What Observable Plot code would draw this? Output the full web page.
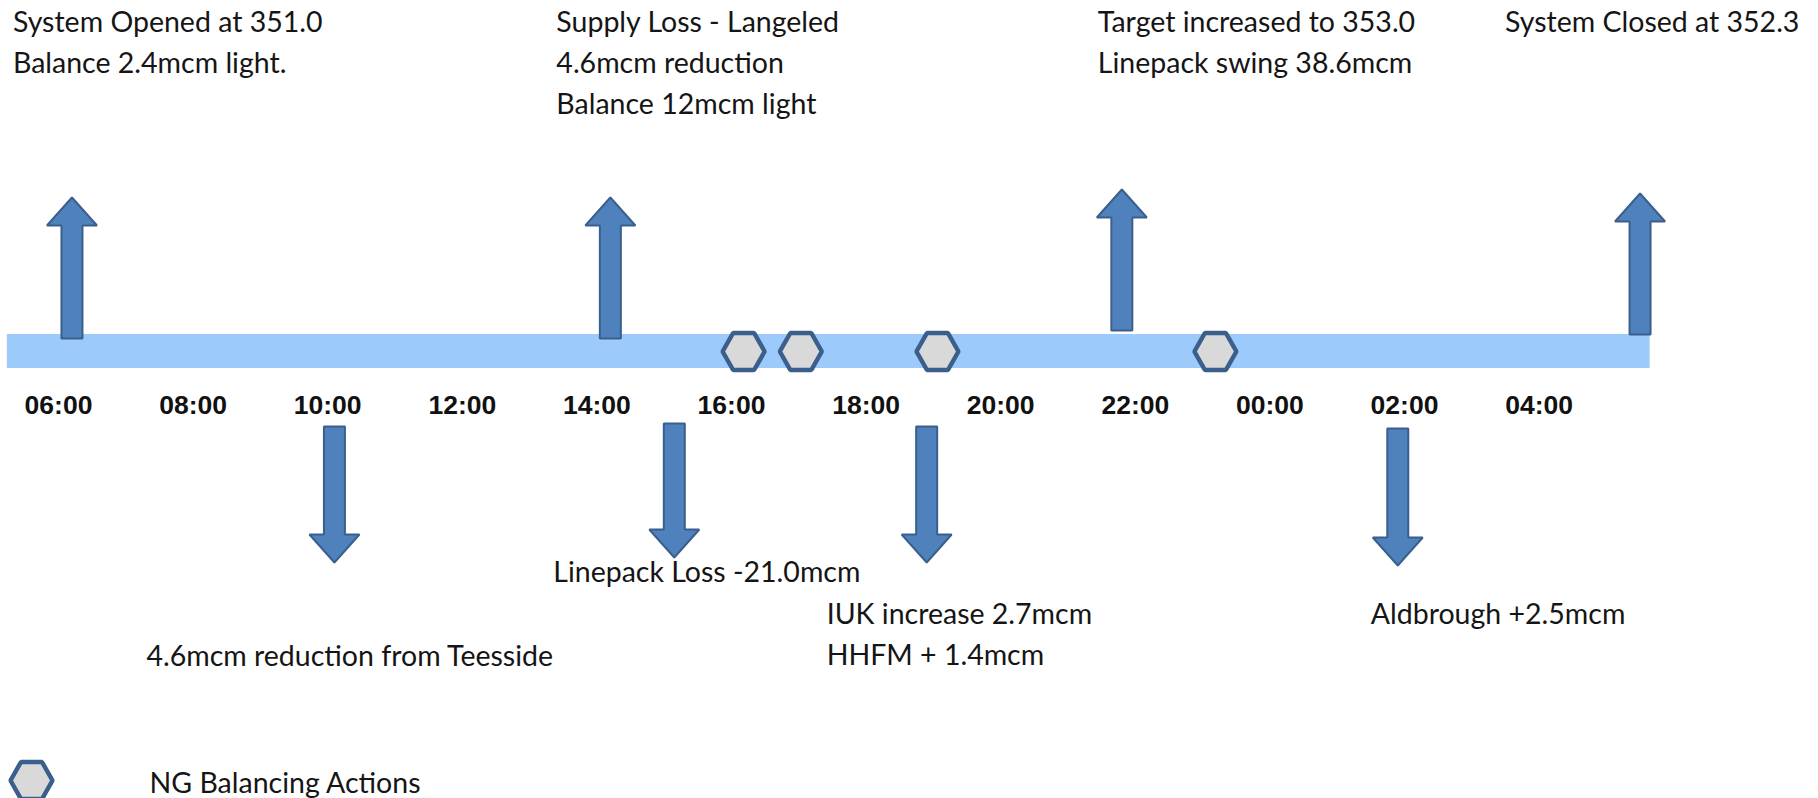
<!DOCTYPE html>
<html>
<head>
<meta charset="utf-8">
<script src="https://cdn.jsdelivr.net/npm/d3@7"></script>
<script src="https://cdn.jsdelivr.net/npm/@observablehq/plot@0.6"></script>
<style>
  html, body { margin: 0; padding: 0; background: #fff; }
  svg { display: block; }
</style>
</head>
<body>
<div id="chart"></div>
<script>
// ---------------- DATA ----------------
// Gas day timeline, hours from midnight of day 1 (24+ = next day)
const dayStart = 5.24;
const dayEnd = 29.65;

const tickHours = [6, 8, 10, 12, 14, 16, 18, 20, 22, 24, 26, 28];
const tickLabels = ["06:00", "08:00", "10:00", "12:00", "14:00", "16:00",
                    "18:00", "20:00", "22:00", "00:00", "02:00", "04:00"];

// Events above the line (up arrows)
const upHours = [6.2, 14.2, 21.8, 29.5];
const upLabels = [
  ["System Opened at 351.0", "Balance 2.4mcm light."],
  ["Supply Loss - Langeled", "4.6mcm reduction", "Balance 12mcm light"],
  ["Target increased to 353.0", "Linepack swing 38.6mcm"],
  ["System Closed at 352.3"]
];

// Events below the line (down arrows)
const downHours = [10.1, 15.15, 18.9, 25.9];
const downLabels = [
  ["4.6mcm reduction from Teesside"],
  ["Linepack Loss -21.0mcm"],
  ["IUK increase 2.7mcm", "HHFM + 1.4mcm"],
  ["Aldbrough +2.5mcm"]
];

// NG balancing actions (hexagons)
const actionHours = [16.18, 17.03, 19.06, 23.19];
const legendLabel = "NG Balancing Actions";

// ---------------- LAYOUT (pixels) ----------------
const W = 1818, H = 798;
const pxPerHour = 67.3;
const xMin = 6 - 58 / pxPerHour;
const xMax = xMin + W / pxPerHour;
const hOff = (h, dpx) => h + dpx / pxPerHour;
const pxToHour = (p) => xMin + p / pxPerHour;

const band = {y1: 334, y2: 368};
const upLayout = [
  {tip: 197, bottom: 338, textDx: -59, firstBaseline: 31},
  {tip: 197, bottom: 338, textDx: -54, firstBaseline: 31},
  {tip: 189, bottom: 330, textDx: -24, firstBaseline: 31},
  {tip: 193, bottom: 334, textDx: -135, firstBaseline: 31}
];
const downLayout = [
  {top: 426, tip: 562, textDx: -188, firstBaseline: 665},
  {top: 423, tip: 557, textDx: -121, firstBaseline: 581},
  {top: 426, tip: 562, textDx: -100, firstBaseline: 623},
  {top: 428, tip: 565, textDx: -27, firstBaseline: 623}
];
const lineGap = 41;
const shaftHalf = 10.5, headHalf = 25, headLen = 28;
const hexHalfW = 21, hexTopHalf = 10.5, hexHalfH = 18.5;
const hexY = 351;
const legendPos = {hexPx: 31, hexY: 780, textPx: 149, baseline: 792};
const tickBaseline = 413;

// ---------------- DERIVED SHAPES ----------------
function arrowPoly(id, h, tipY, baseY, dir) {
  // dir = -1 up (tip above), +1 down
  const hb = tipY - dir * headLen;
  return [
    [ shaftHalf, baseY], [ shaftHalf, hb], [ headHalf, hb], [0, tipY],
    [-headHalf, hb], [-shaftHalf, hb], [-shaftHalf, baseY]
  ].map(([dx, y]) => ({id, x: hOff(h, dx), y}));
}
function hexPoly(id, h, cy) {
  return [
    [-hexHalfW, 0], [-hexTopHalf, -hexHalfH], [hexTopHalf, -hexHalfH],
    [hexHalfW, 0], [hexTopHalf, hexHalfH], [-hexTopHalf, hexHalfH]
  ].map(([dx, dy]) => ({id, x: hOff(h, dx), y: cy + dy}));
}

const arrows = [
  ...upHours.flatMap((h, i) => arrowPoly("u" + i, h, upLayout[i].tip, upLayout[i].bottom, -1)),
  ...downHours.flatMap((h, i) => arrowPoly("d" + i, h, downLayout[i].tip, downLayout[i].top, 1))
];
const hexes = [
  ...actionHours.flatMap((h, i) => hexPoly("a" + i, h, hexY)),
  ...hexPoly("legend", pxToHour(legendPos.hexPx), legendPos.hexY)
];

const labelRows = [
  ...upHours.flatMap((h, i) => upLabels[i].map((t, j) => ({
    x: hOff(h, upLayout[i].textDx), y: upLayout[i].firstBaseline + j * lineGap, t}))),
  ...downHours.flatMap((h, i) => downLabels[i].map((t, j) => ({
    x: hOff(h, downLayout[i].textDx), y: downLayout[i].firstBaseline + j * lineGap, t}))),
  {x: pxToHour(legendPos.textPx), y: legendPos.baseline, t: legendLabel}
];

const ticks = tickHours.map((h, i) => ({x: h, t: tickLabels[i]}));

// ---------------- PLOT ----------------
const chart = Plot.plot({
  width: W,
  height: H,
  margin: 0,
  x: {type: "linear", domain: [xMin, xMax], range: [0, W], axis: null},
  y: {type: "linear", domain: [0, H], range: [0, H], axis: null},
  style: {background: "#fff", overflow: "visible"},
  marks: [
    Plot.rect([{x1: dayStart, x2: dayEnd, y1: band.y1, y2: band.y2}],
      {x1: "x1", x2: "x2", y1: "y1", y2: "y2", fill: "#9ccafb"}),
    Plot.line(arrows, {x: "x", y: "y", z: "id", curve: "linear-closed",
      fill: "#4f81bd", stroke: "#3a5f8d", strokeWidth: 2, strokeLinejoin: "miter"}),
    Plot.line(hexes, {x: "x", y: "y", z: "id", curve: "linear-closed",
      fill: "#d9d9d9", stroke: "#3b5f8c", strokeWidth: 4.5, strokeLinejoin: "miter"}),
    Plot.text(ticks, {x: "x", y: () => tickBaseline, text: "t", textAnchor: "middle",
      lineAnchor: "bottom", fontFamily: "'Liberation Sans', Arial, sans-serif",
      fontWeight: "bold", fontSize: 26.5, fill: "#111"}),
    Plot.text(labelRows, {x: "x", y: "y", text: "t", textAnchor: "start",
      lineAnchor: "bottom", fontFamily: "Lato, 'Open Sans', sans-serif",
      fontSize: 28.5, fill: "#151515"})
  ]
});
document.getElementById("chart").appendChild(chart);
</script>
</body>
</html>
